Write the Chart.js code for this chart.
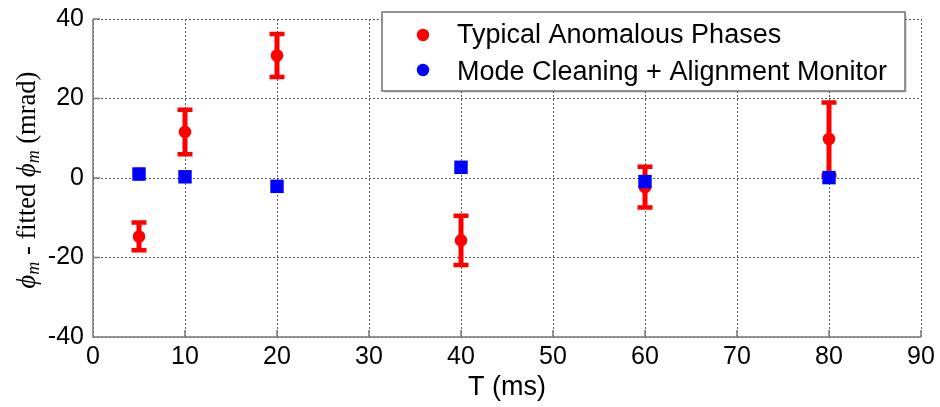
<!DOCTYPE html>
<html>
<head>
<meta charset="utf-8">
<script src="https://cdn.jsdelivr.net/npm/chart.js@4/dist/chart.umd.min.js"></script>
<style>
html,body{margin:0;padding:0;background:#fff;}
#wrap{width:940px;height:407px;position:relative;}
</style>
</head>
<body>
<div id="wrap"><canvas id="c" width="940" height="407"></canvas></div>
<script>
// ---- data ----
const times = [5, 10, 20, 40, 60, 80];
const anomalousPhase = [-14.7, 11.6, 30.8, -15.7, -2.3, 9.8];
const anomalousErr   = [3.5, 5.6, 5.4, 6.2, 5.1, 9.2];
const monitorPhase   = [1.0, 0.3, -2.1, 2.7, -0.9, 0.1];
const monitorErr     = [1.2, 1.2, 1.2, 1.2, 1.2, 1.2];
const xTickValues = [0, 10, 20, 30, 40, 50, 60, 70, 80, 90];
const yTickValues = [-40, -20, 0, 20, 40];
const seriesLabels = ['Typical Anomalous Phases', 'Mode Cleaning + Alignment Monitor'];
const xTitle = 'T (ms)';
const yTitleParts = [
  {t: 'ϕ', italic: true, sub: false},
  {t: 'm', italic: true, sub: true},
  {t: ' - fitted ', italic: false, sub: false},
  {t: 'ϕ', italic: true, sub: false},
  {t: 'm', italic: true, sub: true},
  {t: ' (mrad)', italic: false, sub: false}
];

const RED = '#ff0000', BLUE = '#0000ff';
const SANS = "'Liberation Sans', Arial, sans-serif";
const SERIF = "'Liberation Serif', 'DejaVu Serif', serif";

const errorSets = [
  {vals: anomalousPhase, errs: anomalousErr, color: RED, lw: 5, cap: 15, capLw: 4.5},
  {vals: monitorPhase, errs: monitorErr, color: BLUE, lw: 3, cap: 8, capLw: 3}
];

const errorBarPlugin = {
  id: 'errorBars',
  beforeDatasetsDraw(chart) {
    const ctx = chart.ctx, xs = chart.scales.x, ys = chart.scales.y;
    ctx.save();
    errorSets.forEach(s => {
      ctx.strokeStyle = s.color;
      times.forEach((t, i) => {
        const px = xs.getPixelForValue(t);
        const pTop = ys.getPixelForValue(s.vals[i] + s.errs[i]);
        const pBot = ys.getPixelForValue(s.vals[i] - s.errs[i]);
        ctx.lineWidth = s.lw;
        ctx.beginPath(); ctx.moveTo(px, pTop); ctx.lineTo(px, pBot); ctx.stroke();
        ctx.lineWidth = s.capLw;
        ctx.beginPath();
        ctx.moveTo(px - s.cap / 2, pTop); ctx.lineTo(px + s.cap / 2, pTop);
        ctx.moveTo(px - s.cap / 2, pBot); ctx.lineTo(px + s.cap / 2, pBot);
        ctx.stroke();
      });
    });
    ctx.restore();
  }
};

const axesPlugin = {
  id: 'axesBox',
  beforeDatasetsDraw(chart) {
    const ctx = chart.ctx, a = chart.chartArea, xs = chart.scales.x, ys = chart.scales.y;
    ctx.save();
    ctx.strokeStyle = '#7a7a7a';
    ctx.lineWidth = 1.5;
    ctx.beginPath();
    ctx.moveTo(a.left, a.top); ctx.lineTo(a.left, a.bottom); ctx.lineTo(a.right, a.bottom);
    xTickValues.forEach(v => { const p = xs.getPixelForValue(v); ctx.moveTo(p, a.bottom); ctx.lineTo(p, a.bottom - 7); });
    yTickValues.forEach(v => { const p = ys.getPixelForValue(v); ctx.moveTo(a.left, p); ctx.lineTo(a.left + 7, p); });
    ctx.stroke();
    ctx.restore();
  },
  afterDraw(chart) {
    const ctx = chart.ctx, a = chart.chartArea;
    // y title with mixed fonts
    ctx.save();
    ctx.translate(35, (a.top + a.bottom) / 2 + 2);
    ctx.rotate(-Math.PI / 2);
    ctx.fillStyle = '#000';
    ctx.textBaseline = 'alphabetic';
    const fontFor = p => (p.italic ? 'italic ' : '') + (p.sub ? '18px ' : '26.5px ') + SERIF;
    let total = 0;
    yTitleParts.forEach(p => { ctx.font = fontFor(p); total += ctx.measureText(p.t).width; });
    let x = -total / 2;
    yTitleParts.forEach(p => {
      ctx.font = fontFor(p);
      ctx.fillText(p.t, x, p.sub ? 4 : 0);
      x += ctx.measureText(p.t).width;
    });
    ctx.restore();

    // legend box
    ctx.save();
    const L = 382, T = 12, R = 905, B = 91;
    ctx.fillStyle = 'rgba(0,0,0,0.12)';
    ctx.fillRect(L + 2, T + 2, R - L, B - T);
    ctx.fillStyle = '#fff';
    ctx.fillRect(L, T, R - L, B - T);
    ctx.strokeStyle = '#707070';
    ctx.lineWidth = 1.5;
    ctx.strokeRect(L, T, R - L, B - T);
    const rows = [{y: 35, base: 43, c: RED}, {y: 70, base: 80, c: BLUE}];
    ctx.font = '27px ' + SANS;
    ctx.textBaseline = 'alphabetic';
    rows.forEach((r, i) => {
      ctx.fillStyle = r.c;
      ctx.beginPath(); ctx.arc(423, r.y, 6.2, 0, Math.PI * 2); ctx.fill();
      ctx.fillStyle = '#000';
      ctx.fillText(seriesLabels[i], 457, r.base);
    });
    ctx.restore();
  }
};

new Chart(document.getElementById('c'), {
  type: 'scatter',
  data: {
    datasets: [
      {
        label: seriesLabels[0],
        order: 2,
        data: times.map((t, i) => ({x: t, y: anomalousPhase[i]})),
        pointStyle: 'circle', pointRadius: 6.3, pointBackgroundColor: RED, pointBorderWidth: 0,
        borderColor: RED, showLine: false
      },
      {
        label: seriesLabels[1],
        order: 1,
        data: times.map((t, i) => ({x: t, y: monitorPhase[i]})),
        pointStyle: 'rect', pointRadius: 9.5, pointBackgroundColor: BLUE, pointBorderWidth: 0,
        borderColor: BLUE, showLine: false
      }
    ]
  },
  options: {
    responsive: false,
    animation: false,
    devicePixelRatio: 1,
    layout: {padding: {left: 0, top: 19, right: 19, bottom: 0}},
    plugins: {legend: {display: false}, tooltip: {enabled: false}},
    scales: {
      x: {
        type: 'linear', min: 0, max: 90,
        afterBuildTicks: s => { s.ticks = xTickValues.map(v => ({value: v})); },
        afterFit: s => { s.height = 70; s.paddingLeft = 0; s.paddingRight = 0; s.paddingTop = 0; s.paddingBottom = 0; },
        ticks: {font: {family: SANS, size: 25}, color: '#000', padding: 5, maxRotation: 0, autoSkip: false},
        grid: {color: '#555', lineWidth: 1, drawTicks: false},
        border: {display: false, dash: [2, 2]},
        title: {display: true, text: xTitle, color: '#000', font: {family: SANS, size: 27}, padding: {top: 0, bottom: 3}}
      },
      y: {
        type: 'linear', min: -40, max: 40,
        afterBuildTicks: s => { s.ticks = yTickValues.map(v => ({value: v})); },
        afterFit: s => { s.width = 93; s.paddingTop = 0; s.paddingBottom = 0; s.paddingLeft = 0; s.paddingRight = 0; },
        ticks: {font: {family: SANS, size: 25}, color: '#000', padding: 9, autoSkip: false},
        grid: {color: '#555', lineWidth: 1, drawTicks: false},
        border: {display: false, dash: [2, 2]}
      }
    }
  },
  plugins: [axesPlugin, errorBarPlugin]
});
</script>
</body>
</html>
